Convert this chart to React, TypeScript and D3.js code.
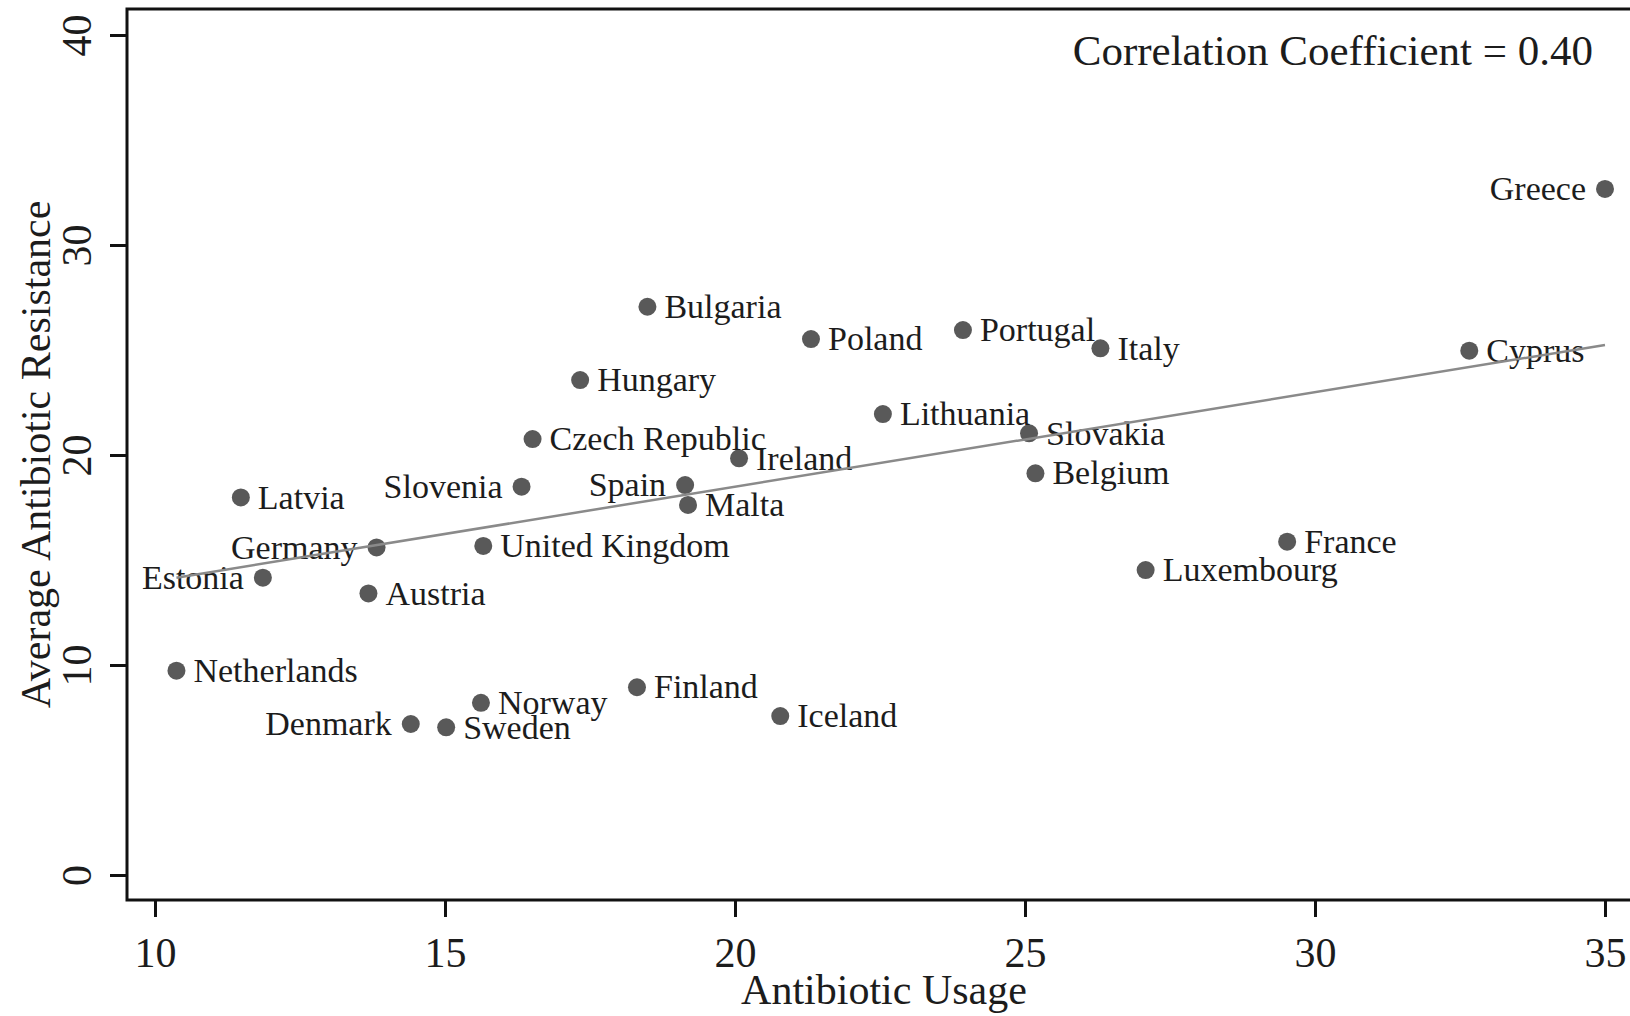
import React, { useRef, useEffect } from 'react';
import * as d3 from 'd3';

// values
const countries = [
  'Greece', 'Bulgaria', 'Poland', 'Portugal', 'Italy', 'Cyprus', 'Hungary',
  'Lithuania', 'Czech Republic', 'Slovakia', 'Ireland', 'Belgium', 'Latvia',
  'Slovenia', 'Spain', 'Malta', 'Germany', 'United Kingdom', 'France',
  'Luxembourg', 'Estonia', 'Austria', 'Netherlands', 'Norway', 'Finland',
  'Denmark', 'Sweden', 'Iceland',
];
const usage = [
  35.0, 18.49, 21.31, 23.93, 26.3, 32.66, 17.33,
  22.55, 16.51, 25.07, 20.07, 25.18, 11.48,
  16.32, 19.14, 19.19, 13.82, 15.66, 29.52,
  27.08, 11.86, 13.68, 10.37, 15.62, 18.31,
  14.41, 15.02, 20.78,
];
const resistance = [
  32.67, 27.06, 25.52, 25.95, 25.08, 24.97, 23.57,
  21.95, 20.76, 21.03, 19.84, 19.13, 17.98,
  18.49, 18.57, 17.62, 15.6, 15.67, 15.87,
  14.52, 14.16, 13.41, 9.73, 8.2, 8.94,
  7.19, 7.03, 7.57,
];
// labels placed to the left of the marker (others to the right)
const leftLabels = ['Greece', 'Slovenia', 'Spain', 'Germany', 'Estonia', 'Denmark'];

const xTicks = [10, 15, 20, 25, 30, 35];
const yTicks = [0, 10, 20, 30, 40];

// fitted line as drawn
const fitIntercept = 9.49;
const fitSlope = 0.45;
const correlation = 0.40;

const W = 1630;
const H = 1016;
const FONT = '"Liberation Serif", "Times New Roman", serif';
const INK = '#1c1c1c';

export default function App() {
  const svgRef = useRef<SVGSVGElement | null>(null);

  useEffect(() => {
    if (!svgRef.current) return;
    const svg = d3.select(svgRef.current);
    svg.selectAll('*').remove();

    const plot = { left: 127, top: 9, bottom: 900, right: 1645 };

    const x = d3.scaleLinear().domain([10, 35]).range([155, 1605]);
    const y = d3.scaleLinear().domain([0, 40]).range([875, 35]);

    svg.append('rect').attr('width', W).attr('height', H).attr('fill', '#fff');

    // frame
    svg.append('rect')
      .attr('x', plot.left)
      .attr('y', plot.top)
      .attr('width', plot.right - plot.left)
      .attr('height', plot.bottom - plot.top)
      .attr('fill', 'none')
      .attr('stroke', '#111')
      .attr('stroke-width', 3);

    // y axis
    svg.append('g')
      .attr('transform', `translate(${plot.left},0)`)
      .call(d3.axisLeft(y).tickValues(yTicks).tickSize(17).tickSizeOuter(0))
      .call(g => g.select('.domain').remove())
      .call(g => g.selectAll('.tick line').attr('stroke', '#111').attr('stroke-width', 3))
      .selectAll('.tick text')
      .attr('transform', 'rotate(-90)')
      .attr('x', 0)
      .attr('y', -36)
      .attr('dy', 0)
      .attr('text-anchor', 'middle')
      .attr('font-family', FONT)
      .attr('font-size', 42)
      .attr('fill', INK);

    // x axis
    svg.append('g')
      .attr('transform', `translate(0,${plot.bottom})`)
      .call(d3.axisBottom(x).tickValues(xTicks).tickSize(17).tickSizeOuter(0))
      .call(g => g.select('.domain').remove())
      .call(g => g.selectAll('.tick line').attr('stroke', '#111').attr('stroke-width', 3))
      .selectAll('.tick text')
      .attr('y', 67)
      .attr('dy', 0)
      .attr('font-family', FONT)
      .attr('font-size', 42)
      .attr('fill', INK);

    // axis titles
    svg.append('text')
      .attr('x', 884)
      .attr('y', 1004)
      .attr('text-anchor', 'middle')
      .attr('font-family', FONT)
      .attr('font-size', 42)
      .attr('fill', INK)
      .text('Antibiotic Usage');

    svg.append('text')
      .attr('transform', `translate(50,${(plot.top + plot.bottom) / 2}) rotate(-90)`)
      .attr('text-anchor', 'middle')
      .attr('font-family', FONT)
      .attr('font-size', 42)
      .attr('fill', INK)
      .text('Average Antibiotic Resistance');

    const data = countries.map((c, i) => ({ name: c, u: usage[i], r: resistance[i] }));

    // markers
    svg.append('g')
      .selectAll('circle')
      .data(data)
      .enter()
      .append('circle')
      .attr('cx', d => x(d.u))
      .attr('cy', d => y(d.r))
      .attr('r', 9)
      .attr('fill', '#595959');

    // labels
    svg.append('g')
      .selectAll('text')
      .data(data)
      .enter()
      .append('text')
      .attr('x', d => leftLabels.includes(d.name) ? x(d.u) - 19 : x(d.u) + 17)
      .attr('y', d => y(d.r))
      .attr('dy', '0.33em')
      .attr('text-anchor', d => leftLabels.includes(d.name) ? 'end' : 'start')
      .attr('font-family', FONT)
      .attr('font-size', 34)
      .attr('fill', INK)
      .text(d => d.name);

    // fitted line
    const [x0, x1] = d3.extent(usage) as [number, number];
    svg.append('line')
      .attr('x1', x(x0))
      .attr('y1', y(fitIntercept + fitSlope * x0))
      .attr('x2', x(x1))
      .attr('y2', y(fitIntercept + fitSlope * x1))
      .attr('stroke', '#8a8a8a')
      .attr('stroke-width', 2.5);

    // correlation note
    svg.append('text')
      .attr('x', 1593)
      .attr('y', 65)
      .attr('text-anchor', 'end')
      .attr('font-family', FONT)
      .attr('font-size', 43)
      .attr('fill', INK)
      .text(`Correlation Coefficient = ${correlation.toFixed(2)}`);
  }, []);

  return (
    <div style={{ position: 'absolute', left: 0, top: 0 }}>
      <svg ref={svgRef} width={W} height={H} style={{ display: 'block' }} />
    </div>
  );
}
